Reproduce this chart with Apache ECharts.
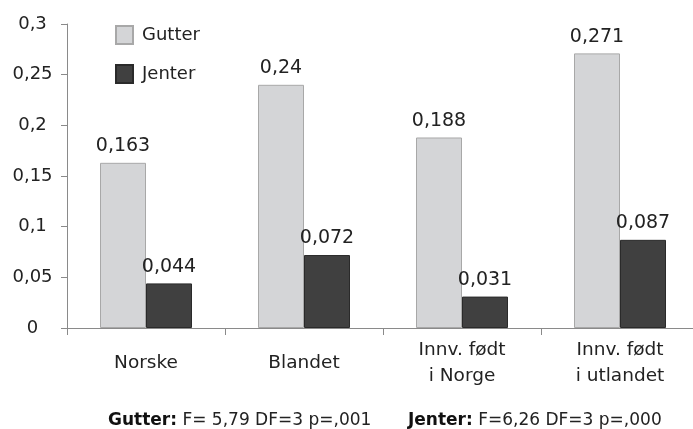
<!DOCTYPE html>
<html><head><meta charset="utf-8">
<script src="https://cdn.jsdelivr.net/npm/echarts@6/dist/echarts.min.js"></script>
<style>html,body{margin:0;padding:0;background:#fff;overflow:hidden}#w{width:693px;height:429px;overflow:hidden;position:relative}#c{width:699px;height:429px;position:absolute;left:0;top:0}</style>
</head><body><div id="w"><div id="c"></div></div>
<script>
const categories = ['Norske', 'Blandet', 'Innv. født\ni Norge', 'Innv. født\ni utlandet'];
const gutter = [0.163, 0.24, 0.188, 0.271];
const jenter = [0.044, 0.072, 0.031, 0.087];
const yTicks = [0, 0.05, 0.1, 0.15, 0.2, 0.25, 0.3];
const fmt = v => String(v).replace('.', ',');
const FONT = 'DejaVu Sans';
const chart = echarts.init(document.getElementById('c'), null, {renderer: 'canvas'});
chart.setOption({
  animation: false,
  textStyle: {fontFamily: FONT},
  grid: {left: 67, right: 0, top: 24, bottom: 101, containLabel: false},
  legend: {
    orient: 'vertical', left: 110, top: 20, itemWidth: 17, itemHeight: 18, itemGap: 19,
    icon: 'rect',
    textStyle: {fontSize: 18, color: '#222', fontFamily: FONT, padding: [0,0,0,4]},
    data: ['Gutter', 'Jenter']
  },
  xAxis: {
    type: 'category', data: categories,
    axisLine: {lineStyle: {color: '#8a8a8a', width: 1}},
    axisTick: {show: true, length: 7, lineStyle: {color: '#8a8a8a'}},
    axisLabel: {fontSize: 18.5, color: '#222', margin: 35, lineHeight: 26, verticalAlign: 'middle', fontFamily: FONT}
  },
  yAxis: {
    type: 'value', min: yTicks[0], max: yTicks[yTicks.length - 1], interval: 0.05,
    splitLine: {show: false},
    axisLine: {show: true, lineStyle: {color: '#8a8a8a', width: 1}},
    axisTick: {show: true, length: 6, lineStyle: {color: '#8a8a8a'}},
    axisLabel: {fontSize: 18, color: '#222', margin: 34.5, align: 'center', fontFamily: FONT,
      formatter: v => fmt(+v.toFixed(2))}
  },
  series: [
    {name: 'Gutter', type: 'bar', data: gutter, barWidth: 46, barGap: '0%',
     itemStyle: {color: '#d4d5d7', borderColor: '#a8a8a8', borderWidth: 1},
     label: {show: true, position: 'top', distance: 7, fontSize: 19, color: '#222', fontFamily: FONT, formatter: p => fmt(p.value)}},
    {name: 'Jenter', type: 'bar', data: jenter, barWidth: 46, barGap: '0%',
     itemStyle: {color: '#404040', borderColor: '#2a2a2a', borderWidth: 1},
     label: {show: true, position: 'top', distance: 7, fontSize: 19, color: '#222', fontFamily: FONT, formatter: p => fmt(p.value)}}
  ],
  graphic: [
    {type: 'text', x: 108, y: 421, style: {
      verticalAlign: 'middle',
      rich: {b: {fontWeight: 'bold', fontSize: 17, fontFamily: FONT, fill: '#111'}, n: {fontSize: 17, fontFamily: FONT, fill: '#222'}},
      text: '{b|Gutter:}{n| F= 5,79 DF=3 p=,001}'}},
    {type: 'text', x: 408, y: 421, style: {
      verticalAlign: 'middle',
      rich: {b: {fontWeight: 'bold', fontSize: 17, fontFamily: FONT, fill: '#111'}, n: {fontSize: 17, fontFamily: FONT, fill: '#222'}},
      text: '{b|Jenter:}{n| F=6,26 DF=3 p=,000}'}}
  ]
});
</script></body></html>
